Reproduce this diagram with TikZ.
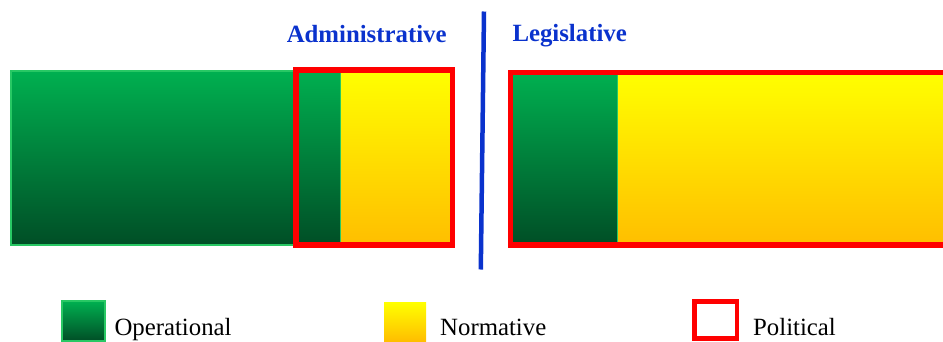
\documentclass[tikz,border=0pt]{standalone}
\usepackage{fontspec}
\setmainfont{Liberation Serif}
\newfontfamily\tmsfont{Liberation Serif}
\begin{document}
\begin{tikzpicture}[x=1pt,y=-1pt]

  \definecolor{grntop}{RGB}{0,176,80}
  \definecolor{grnbot}{RGB}{0,78,38}
  \definecolor{grnedge}{RGB}{40,200,100}
  \definecolor{ylwtop}{RGB}{255,255,0}
  \definecolor{ylwbot}{RGB}{255,190,0}
  \definecolor{polred}{RGB}{255,0,0}
  \definecolor{ttlblue}{RGB}{10,50,205}

 \clip (0,0) rectangle (943,341);

 \tikzset{
      opstl/.style={top color=grntop,bottom color=grnbot,draw=grnedge,line width=1.2},
      normstl/.style={top color=ylwtop,bottom color=ylwbot},
      polstl/.style={draw=polred,line width=5.5},
      ttlstl/.style={text=ttlblue,font=\tmsfont\fontsize{24.8}{28}\selectfont\bfseries,inner sep=0pt},
      lgdstl/.style={font=\tmsfont\fontsize{24.8}{28}\selectfont,inner sep=0pt,anchor=base west},
    }

 % administrative block
 \coordinate (a0) at (11,71);
 \coordinate (a1) at (296,245);
 \coordinate (a2) at (341,70);
 \coordinate (a3) at (452.5,245);

 \shade[opstl] (a0) rectangle (a1);
 \shade[opstl] (296,70) rectangle (341,245);
 \shade[normstl] (a2) rectangle (a3);
 \draw[polstl] (296,70) rectangle (a3);

 % legislative block
 \coordinate (l0) at (510.5,72.5);
 \coordinate (l1) at (618,245);

 \shade[opstl] (l0) rectangle (l1);
 \shade[normstl] (l1 |- l0) rectangle (960,245);
 \draw[polstl] (l0) rectangle (960,245);

 % dividing line
 \coordinate (d0) at (484,11.5);
 \coordinate (d1) at (480.8,269.5);
 \draw[ttlblue,line width=4.5] (d0) -- (d1);

 \node[ttlstl,anchor=base] (adm) at (366.7,42.7) {Administrative};
 \node[ttlstl,anchor=base west] (leg) at (512.3,41.5) {Legislative};

 % legend
 \shade[opstl] (62,301) rectangle (105,341);
 \shade[normstl] (384,302.5) rectangle (426,341);
 \draw[polstl,line width=4.5] (694.5,301.5) rectangle (737,338.7);

 \node[lgdstl] (ops) at (114.3,335.7) {Operational};
 \node[lgdstl] (nrm) at (440,335.7) {Normative};
 \node[lgdstl] (pol) at (753,335.7) {Political};
\end{tikzpicture}
\end{document}
